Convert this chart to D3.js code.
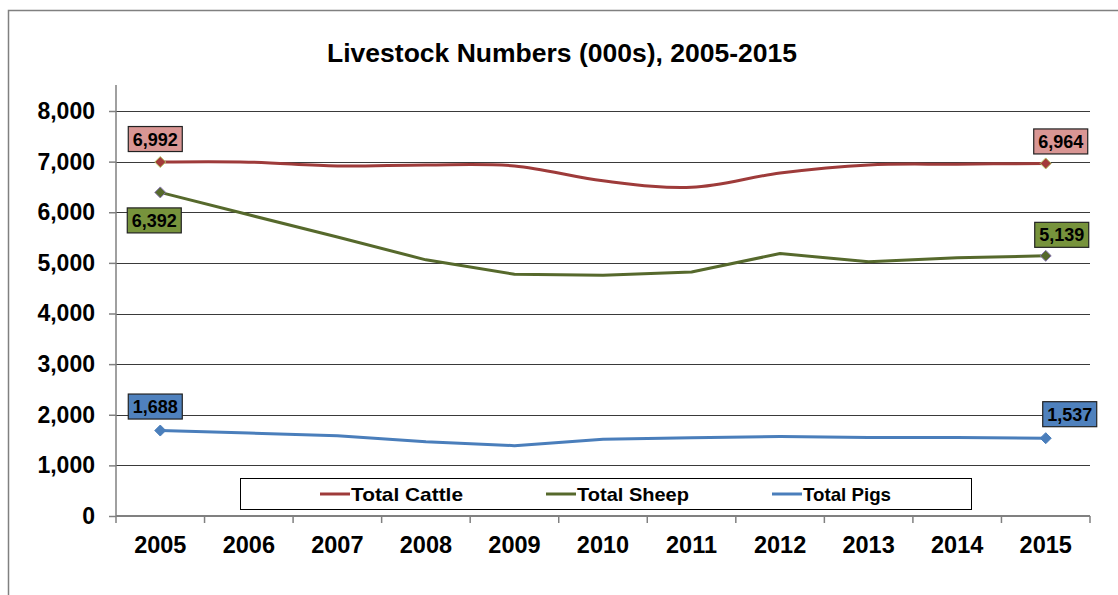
<!DOCTYPE html>
<html>
<head>
<meta charset="utf-8">
<script src="https://cdn.jsdelivr.net/npm/d3@7"></script>
<style>
  body { margin: 0; background: #fff; }
  svg text { font-family: "Liberation Sans", Arial, sans-serif; font-weight: bold; }
  svg text.legend { font-family: "Liberation Sans Narrow", "Liberation Sans", Arial, sans-serif; }
</style>
</head>
<body>
<div id="chart"></div>
<script>
// data
const years = ["2005", "2006", "2007", "2008", "2009", "2010", "2011", "2012", "2013", "2014", "2015"]
const cattle = [6992, 6990, 6915, 6935, 6915, 6620, 6492, 6775, 6935, 6950, 6964]
const sheep = [6392, 5950, 5510, 5060, 4775, 4757, 4820, 5185, 5020, 5100, 5139]
const pigs = [1688, 1640, 1587, 1468, 1390, 1516, 1548, 1568, 1550, 1550, 1537]
const yTicks = [0, 1000, 2000, 3000, 4000, 5000, 6000, 7000, 8000]
const seriesNames = ["Total Cattle", "Total Sheep", "Total Pigs"]

let width = 1118
let height = 595
let margin = { top: 111, right: 28, bottom: 79, left: 116 }

const svg = d3.select("#chart").append("svg")
    .attr("width", width)
    .attr("height", height)

// 外框
svg.append("path")
    .attr("d", "M8.5," + height + "V10.5H" + width)
    .attr("fill", "none")
    .attr("stroke", "#808080")
    .attr("stroke-width", 1.5)

svg.append("text")
    .attr("x", 562)
    .attr("y", 62)
    .attr("text-anchor", "middle")
    .attr("font-size", "26.5px")
    .text("Livestock Numbers (000s), 2005-2015")

let xScale = d3.scaleBand()
    .domain(years)
    .range([margin.left, width - margin.right])

let yScale = d3.scaleLinear()
    .domain([0, 8000])
    .range([height - margin.bottom, margin.top])

// 网格线
svg.append("g")
    .selectAll("line")
    .data(yTicks.slice(1))
    .enter().append("line")
    .attr("x1", margin.left)
    .attr("x2", width - margin.right)
    .attr("y1", d => Math.round(yScale(d)) + 0.5)
    .attr("y2", d => Math.round(yScale(d)) + 0.5)
    .attr("stroke", "#3a3a3a")
    .attr("stroke-width", 1.2)

// y轴
let yAxis = svg.append("g")
    .attr("transform", "translate(" + margin.left + ",0)")
    .call(d3.axisLeft(yScale).tickValues(yTicks).tickSize(7).tickPadding(14).tickFormat(d3.format(",")))
yAxis.select(".domain").remove()
yAxis.append("line")
    .attr("x1", 0).attr("x2", 0)
    .attr("y1", 85).attr("y2", height - margin.bottom)
    .attr("stroke", "#808080").attr("stroke-width", 1.5)
yAxis.selectAll(".tick line").attr("stroke", "#808080").attr("stroke-width", 1.5)
yAxis.selectAll("text")
    .attr("font-size", "23px")
    .attr("fill", "#000")

// x轴
let xAxis = svg.append("g")
    .attr("transform", "translate(0," + (height - margin.bottom) + ")")
xAxis.append("line")
    .attr("x1", margin.left).attr("x2", width - margin.right)
    .attr("stroke", "#808080").attr("stroke-width", 2)
xAxis.selectAll(".xtick")
    .data(years.concat(["end"]))
    .enter().append("line")
    .attr("x1", (d, i) => margin.left + i * xScale.step())
    .attr("x2", (d, i) => margin.left + i * xScale.step())
    .attr("y1", 0).attr("y2", 7)
    .attr("stroke", "#808080").attr("stroke-width", 1.5)
xAxis.selectAll(".xlabel")
    .data(years)
    .enter().append("text")
    .attr("x", d => xScale(d) + xScale.bandwidth() / 2)
    .attr("y", 37)
    .attr("text-anchor", "middle")
    .attr("font-size", "23.5px")
    .text(d => d)

// 折线
const series = [
    { name: seriesNames[0], values: cattle, color: "#9e3b3a", fill: "#d99694", marker: "#a33a3a", outline: "#b5c768", curve: d3.curveCatmullRom },
    { name: seriesNames[1], values: sheep, color: "#56692c", fill: "#77933c", marker: "#56692c", outline: "#8b78b5", curve: d3.curveLinear },
    { name: seriesNames[2], values: pigs, color: "#4a7ebb", fill: "#4f81bd", marker: "#4a7ebb", outline: "#4a7ebb", curve: d3.curveLinear }
]
// 标签偏移 [first dx, first dy, last dx, last dy]
const labelOffsets = [[-5, -23, 15, -22], [-6, 28, 16, -21], [-5, -24, 24, -24]]

const cx = d => xScale(d) + xScale.bandwidth() / 2

series.forEach(function (s, si) {
    let line = d3.line()
        .x((d, i) => cx(years[i]))
        .y(d => yScale(d))
        .curve(s.curve)
    svg.append("path")
        .datum(s.values)
        .attr("d", line)
        .attr("fill", "none")
        .attr("stroke", s.color)
        .attr("stroke-width", 3)
        .attr("stroke-linejoin", "round")

    let ends = [0, s.values.length - 1]
    ends.forEach(function (idx, k) {
        let px = cx(years[idx]), py = yScale(s.values[idx])
        svg.append("path")
            .attr("d", "M0,-5.5L5.5,0L0,5.5L-5.5,0Z")
            .attr("transform", "translate(" + px + "," + py + ")")
            .attr("fill", s.marker)
            .attr("stroke", s.outline)
            .attr("stroke-width", 1)

        let lx = px + labelOffsets[si][k * 2]
        let ly = py + labelOffsets[si][k * 2 + 1]
        let g = svg.append("g").attr("transform", "translate(" + lx + "," + ly + ")")
        g.append("rect")
            .attr("x", -27).attr("y", -12.5)
            .attr("width", 54).attr("height", 25)
            .attr("fill", s.fill)
            .attr("stroke", "#222")
            .attr("stroke-width", 1.2)
        g.append("text")
            .attr("y", 6.5)
            .attr("text-anchor", "middle")
            .attr("font-size", "18px")
            .text(d3.format(",")(s.values[idx]))
    })
})

// 图例
let legend = svg.append("g")
legend.append("rect")
    .attr("x", 240.5).attr("y", 478.5)
    .attr("width", 731).attr("height", 31)
    .attr("fill", "#fff")
    .attr("stroke", "#000")
    .attr("stroke-width", 1)
const legendX = [320, 546, 772]
series.forEach(function (s, i) {
    legend.append("line")
        .attr("x1", legendX[i]).attr("x2", legendX[i] + 30)
        .attr("y1", 494).attr("y2", 494)
        .attr("stroke", s.color).attr("stroke-width", 3)
    legend.append("text")
        .attr("class", "legend")
        .attr("x", legendX[i] + 31)
        .attr("y", 501)
        .attr("font-size", "19px")
        .attr("textLength", i == 2 ? 88 : 112)
        .attr("lengthAdjust", "spacingAndGlyphs")
        .text(s.name)
})
</script>
</body>
</html>
